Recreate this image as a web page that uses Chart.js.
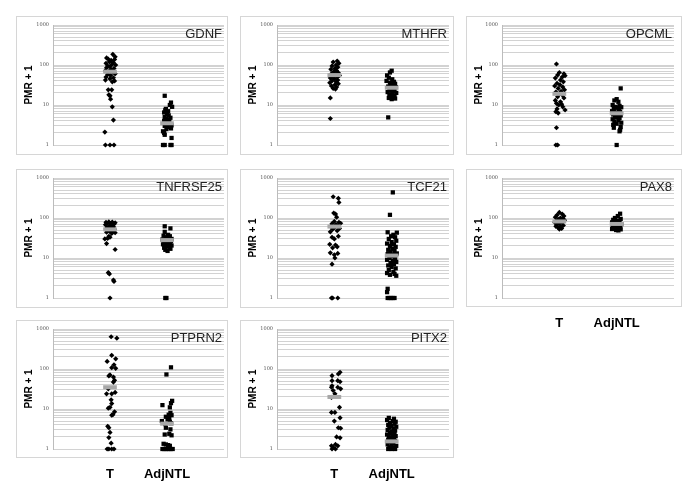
<!DOCTYPE html>
<html>
<head>
<meta charset="utf-8">
<script src="https://cdn.jsdelivr.net/npm/chart.js@4.4.0/dist/chart.umd.min.js"></script>
<style>
  body { margin: 0; background: #fff; width: 685px; height: 490px; position: relative; overflow: hidden; }
  canvas { position: absolute; }
</style>
</head>
<body>
<script>
const genes = ['GDNF', 'MTHFR', 'OPCML', 'TNFRSF25', 'TCF21', 'PAX8', 'PTPRN2', 'PITX2'];
const groups = ['T', 'AdjNTL'];
const yTickLabels = [1, 10, 100, 1000];

// each point: [jitter around the group position, PMR + 1]
const gdnfT = [[0.05,185],[0.09,160],[-0.06,150],[-0.03,140],[0.02,130],[0.08,138],[-0.01,120],[0.06,115],[-0.07,110],[0.03,102],[-0.04,95],[0.1,100],[0.0,90],[-0.06,85],[0.07,82],[0.02,76],[-0.08,72],[-0.02,68],[0.05,65],[0.09,60],[-0.04,58],[0.01,55],[-0.07,50],[0.06,48],[0.0,45],[-0.08,42],[0.08,40],[0.04,38],[-0.03,24],[0.03,24],[-0.02,18],[0.0,17],[0.01,14],[0.04,9],[0.06,4.2],[-0.09,2.1],[-0.08,1],[0.0,1],[0.07,1]];
const gdnfN = [[-0.04,17],[0.07,11.5],[0.05,10],[0.09,9],[-0.02,8],[-0.03,7.4],[0.02,7],[-0.05,6.5],[0.0,6],[0.03,5.5],[-0.04,5],[0.06,4.8],[-0.01,4.5],[0.04,4.2],[-0.05,4],[0.02,3.8],[-0.02,3.5],[0.05,3.3],[0.08,3.1],[-0.04,3],[0.01,2.8],[0.07,2.6],[-0.01,2.5],[-0.07,2.2],[-0.05,2],[-0.04,1.8],[0.08,1.5],[-0.07,1],[-0.04,1],[0.06,1],[0.08,1]];
const mthfrT = [[0.05,125],[-0.02,118],[0.08,110],[0.03,100],[-0.04,95],[0.06,88],[0.01,82],[-0.06,78],[0.04,72],[-0.01,68],[0.07,64],[-0.05,60],[0.02,58],[0.09,55],[-0.03,52],[0.05,50],[-0.07,47],[0.0,45],[0.06,42],[-0.04,40],[0.03,38],[-0.08,36],[0.07,34],[0.01,32],[-0.05,30],[0.04,28],[-0.02,26],[0.02,25],[-0.07,15],[-0.07,4.6]];
const mthfrN = [[0.0,72],[-0.03,65],[-0.08,55],[-0.05,48],[0.01,44],[-0.09,40],[0.04,38],[-0.03,36],[0.06,34],[-0.01,32],[0.03,30],[-0.06,29],[0.07,28],[0.0,26],[-0.04,25],[0.05,24],[-0.02,23],[0.02,22],[-0.07,21],[0.08,20],[0.01,19],[-0.04,18],[0.05,17],[-0.02,16],[0.03,15.5],[-0.05,15],[0.06,14.5],[0.0,14],[-0.06,4.9]];
const opcmlT = [[-0.05,106],[0.0,65],[0.08,60],[-0.03,56],[0.1,54],[0.05,50],[-0.07,47],[0.02,42],[0.07,38],[-0.04,35],[0.01,32],[-0.08,30],[0.06,28],[-0.02,26],[0.09,24],[0.03,22],[-0.06,21],[0.0,19],[0.05,18],[-0.03,16],[0.08,15],[-0.07,13],[0.02,12],[-0.05,11],[0.04,10.5],[-0.01,10],[0.06,9],[-0.04,8],[0.1,7.5],[-0.06,6.8],[-0.02,6.3],[-0.05,2.7],[-0.06,1],[-0.03,1]];
const opcmlN = [[0.07,26],[0.0,14],[-0.04,13],[0.03,12],[-0.07,10],[0.05,9.5],[-0.02,9],[0.08,8.8],[0.01,8.5],[-0.05,8],[0.04,7.5],[-0.08,7],[0.06,6.8],[-0.01,6.5],[0.02,6],[-0.06,5.8],[0.07,5.5],[0.0,5.2],[-0.03,5],[0.05,4.7],[-0.07,4.4],[0.03,4.2],[-0.04,3.9],[0.08,3.6],[0.0,3.4],[-0.06,3.2],[0.07,2.8],[-0.05,2.7],[0.06,2.4],[0.05,2.2],[0.0,1]];
const tnfT = [[-0.07,78],[-0.02,80],[0.04,79],[0.09,76],[-0.04,74],[0.01,72],[0.07,70],[-0.08,68],[0.03,66],[-0.01,62],[0.06,60],[-0.05,58],[0.02,55],[0.08,52],[-0.03,50],[0.05,48],[0.0,46],[-0.06,44],[0.09,43],[0.03,41],[-0.02,35],[0.0,33],[-0.09,30],[-0.04,31],[-0.06,23],[0.09,16.3],[-0.03,4.3],[-0.01,4.0],[0.06,2.8],[0.07,2.6],[0.0,1]];
const tnfN = [[-0.04,62],[0.06,55],[-0.04,45],[0.02,38],[-0.06,36],[0.05,35],[0.0,33],[-0.02,31],[0.08,30],[-0.08,29],[0.03,28],[-0.05,27],[0.07,26],[0.0,25],[-0.03,24],[0.05,23],[-0.07,22],[0.02,21],[0.08,20.5],[-0.01,20],[0.04,19],[-0.05,18],[0.06,17],[-0.03,16],[0.01,15],[-0.03,1],[-0.01,1]];
const tcfT = [[-0.02,340],[0.07,310],[0.08,245],[-0.01,133],[0.02,125],[0.04,105],[0.0,82],[0.08,78],[0.11,74],[-0.04,72],[0.03,68],[0.06,65],[-0.06,62],[0.01,58],[0.09,55],[-0.03,52],[0.05,48],[-0.07,45],[0.07,35],[-0.04,33],[0.0,30],[-0.08,22],[0.02,21],[0.05,19],[-0.03,18],[-0.07,13.5],[0.06,13],[0.0,12],[0.01,10],[-0.04,7],[-0.05,1],[-0.03,1],[0.06,1]];
const tcfN = [[0.02,437],[-0.03,120],[-0.07,44],[0.09,43],[0.03,38],[-0.01,35],[0.06,33],[-0.05,30],[0.08,27],[0.0,25],[-0.08,23],[0.04,22],[-0.03,20],[0.07,19],[0.01,17],[-0.06,16],[0.05,15],[-0.02,14],[0.09,13],[-0.07,12.5],[0.03,12],[0.0,11],[-0.04,10],[0.06,9.5],[-0.08,9],[0.02,8.5],[0.08,8],[-0.02,7.5],[0.04,7],[-0.06,6.5],[0.0,6],[0.07,5.5],[-0.05,5],[0.03,4.5],[-0.08,4.2],[0.05,4],[-0.03,3.8],[0.08,3.6],[-0.07,1.7],[-0.08,1.4],[-0.07,1],[-0.04,1],[-0.01,1],[0.02,1],[0.05,1]];
const pax8T = [[0.0,138],[0.05,125],[-0.04,118],[0.08,112],[-0.07,105],[0.02,100],[0.06,96],[-0.02,92],[0.09,88],[-0.05,85],[0.03,82],[-0.08,78],[0.05,75],[0.0,72],[-0.04,68],[0.07,65],[-0.06,62],[0.02,60],[-0.02,57],[0.04,55],[0.0,53]];
const pax8N = [[0.06,128],[0.02,112],[-0.03,100],[0.07,95],[-0.06,90],[0.03,86],[0.0,82],[-0.08,78],[0.05,75],[-0.02,73],[0.08,70],[-0.05,68],[0.02,66],[-0.07,63],[0.06,61],[0.0,59],[-0.04,57],[0.04,55],[-0.08,53],[0.07,52],[-0.01,50],[0.03,49]];
const ptprn2T = [[0.02,640],[0.12,590],[0.03,220],[0.1,180],[-0.05,155],[0.07,127],[0.03,108],[0.1,104],[0.0,71],[-0.02,67],[0.06,63],[0.08,52],[0.06,47],[-0.03,32],[0.09,26],[-0.06,24],[0.03,24],[0.02,17],[0.03,13.7],[0.0,11],[-0.03,10.5],[0.08,8.5],[0.05,7.2],[0.03,7],[-0.04,3.7],[-0.02,3.4],[0.0,2.6],[-0.02,1.93],[0.02,1.4],[-0.05,1],[-0.02,1],[0.03,1],[0.07,1]];
const ptprn2N = [[0.07,110],[-0.01,73],[0.09,16],[0.07,14],[-0.08,12.5],[0.05,11],[0.06,8],[0.03,7.2],[0.08,7],[-0.02,6.4],[0.04,5.9],[0.01,5.5],[-0.09,5],[0.05,4.8],[0.07,4.4],[-0.03,4.2],[-0.02,3.4],[0.06,3.1],[-0.04,2.3],[0.04,2.4],[0.08,2.2],[-0.06,1.35],[-0.02,1.3],[0.02,1.25],[0.05,1.2],[-0.08,1],[-0.05,1],[-0.02,1],[0.01,1],[0.04,1],[0.07,1],[0.1,1]];
const pitx2T = [[0.1,83],[0.07,75],[-0.04,68],[-0.04,51],[0.06,51],[0.1,48],[-0.04,38],[-0.05,35],[0.06,35],[0.11,32],[-0.02,29],[0.01,24],[-0.05,19.5],[0.09,11],[-0.05,8.2],[0.01,8.2],[0.1,6],[0.0,5],[0.07,3.4],[0.11,3.3],[0.04,2],[0.1,1.9],[0.02,1.3],[-0.05,1.2],[-0.02,1.1],[0.06,1.2],[-0.04,1],[0.02,1]];
const pitx2N = [[-0.05,6],[0.04,5.7],[-0.08,5.3],[0.02,5],[0.07,4.8],[-0.03,4.5],[0.05,4.3],[-0.06,4],[0.0,3.8],[0.08,3.6],[-0.04,3.4],[0.03,3.2],[-0.07,3],[0.06,2.9],[0.0,2.7],[-0.03,2.5],[0.05,2.4],[-0.08,2.3],[0.02,2.2],[0.07,2.1],[-0.05,2],[0.0,1.9],[0.04,1.8],[-0.06,1.7],[0.06,1.6],[-0.02,1.5],[0.03,1.4],[-0.07,1.3],[0.0,1.25],[0.08,1.2],[-0.04,1.1],[0.04,1.1],[-0.06,1],[0.0,1],[0.06,1]];

const tumourPoints = [gdnfT, mthfrT, opcmlT, tnfT, tcfT, pax8T, ptprn2T, pitx2T];
const normalPoints = [gdnfN, mthfrN, opcmlN, tnfN, tcfN, pax8N, ptprn2N, pitx2N];
const medianT = [68, 56, 19, 52, 61, 82, 35, 20];
const medianN = [3.5, 27, 6.2, 28, 11.5, 71, 4.3, 1.55];

// panel frames on the page, and plot insets inside them
const boxes = [
  {left: 16, top: 16, w: 212, h: 139, inL: 37, inR: 3},
  {left: 240, top: 16, w: 214, h: 139, inL: 37, inR: 5},
  {left: 466, top: 16, w: 216, h: 139, inL: 36, inR: 8},
  {left: 16, top: 169, w: 212, h: 139, inL: 37, inR: 3},
  {left: 240, top: 169, w: 214, h: 139, inL: 37, inR: 5},
  {left: 466, top: 169, w: 216, h: 138, inL: 36, inR: 8, labels: true},
  {left: 16, top: 320, w: 212, h: 138, inL: 37, inR: 3, labels: true},
  {left: 240, top: 320, w: 214, h: 138, inL: 37, inR: 5, labels: true}
];

const FONT = '"Liberation Sans", Arial, sans-serif';
const gridValues = [];
for (let d = 1; d < 1000; d *= 10) {
  for (let k = 1; k < 10; k++) gridValues.push(k * d);
}
gridValues.push(1000);

const framePlugin = {
  id: 'frame',
  beforeDraw(chart, args, opts) {
    const ctx = chart.ctx;
    ctx.save();
    ctx.strokeStyle = '#d6d6d6';
    ctx.lineWidth = 1;
    ctx.strokeRect(0.5, 0.5, opts.w - 1, opts.h - 1);
    ctx.restore();
  },
  afterDraw(chart, args, opts) {
    const ctx = chart.ctx;
    const a = chart.chartArea;
    ctx.save();
    ctx.font = '13px ' + FONT;
    ctx.fillStyle = '#222';
    ctx.textAlign = 'right';
    ctx.textBaseline = 'middle';
    ctx.fillText(opts.name, a.right - 2, a.top + 9);
    ctx.restore();
  }
};

genes.forEach((gene, i) => {
  const box = boxes[i];
  const extra = box.labels ? 30 : 0;
  const c = document.createElement('canvas');
  c.width = box.w;
  c.height = box.h + extra;
  c.style.left = box.left + 'px';
  c.style.top = box.top + 'px';
  document.body.appendChild(c);

  const medianLine = (pos, v) => ({
    data: [{x: pos - 0.12, y: v}, {x: pos + 0.12, y: v}],
    showLine: true, borderColor: '#a8a8a8', borderWidth: 4, pointRadius: 0, order: 0
  });

  new Chart(c, {
    type: 'scatter',
    data: {
      datasets: [
        medianLine(1, medianT[i]),
        medianLine(2, medianN[i]),
        {
          data: tumourPoints[i].map(p => ({x: 1 + p[0], y: p[1]})),
          pointStyle: 'rectRot', pointRadius: 2.6, backgroundColor: '#000', borderWidth: 0, order: 1, clip: false
        },
        {
          data: normalPoints[i].map(p => ({x: 2 + p[0], y: p[1]})),
          pointStyle: 'rect', pointRadius: 3, backgroundColor: '#000', borderWidth: 0, order: 1, clip: false
        }
      ]
    },
    options: {
      responsive: false,
      animation: false,
      events: [],
      layout: {padding: {top: 9, right: box.inR, left: 0, bottom: 0}},
      plugins: {
        legend: {display: false},
        tooltip: {enabled: false},
        frame: {w: box.w, h: box.h, name: gene}
      },
      scales: {
        x: {
          type: 'linear', min: 0, max: 3,
          grid: {display: false},
          border: {display: false},
          afterBuildTicks: s => { s.ticks = [{value: 1}, {value: 2}]; },
          ticks: {
            display: !!box.labels, padding: 10, autoSkip: false, maxRotation: 0,
            color: '#000', font: {size: 13, weight: 'bold', family: FONT},
            callback: v => groups[v - 1]
          },
          afterFit: s => { s.height = box.h - 129 + extra; }
        },
        y: {
          type: 'logarithmic', min: 1, max: 1000,
          afterBuildTicks: s => { s.ticks = gridValues.map(v => ({value: v})); },
          ticks: {
            autoSkip: false, padding: 4, color: '#555',
            font: {size: 5, family: '"DejaVu Serif", serif'},
            callback: v => yTickLabels.includes(v) ? String(v) : ''
          },
          grid: {color: '#d2d2d2', lineWidth: 1, drawTicks: false},
          border: {color: '#bcbcbc'},
          title: {
            display: true, text: 'PMR + 1', color: '#000',
            font: {size: 10, weight: 'bold', family: FONT},
            padding: {top: 7, bottom: 0}
          },
          afterFit: s => { s.width = box.inL; }
        }
      }
    },
    plugins: [framePlugin]
  });
});
</script>
</body>
</html>
